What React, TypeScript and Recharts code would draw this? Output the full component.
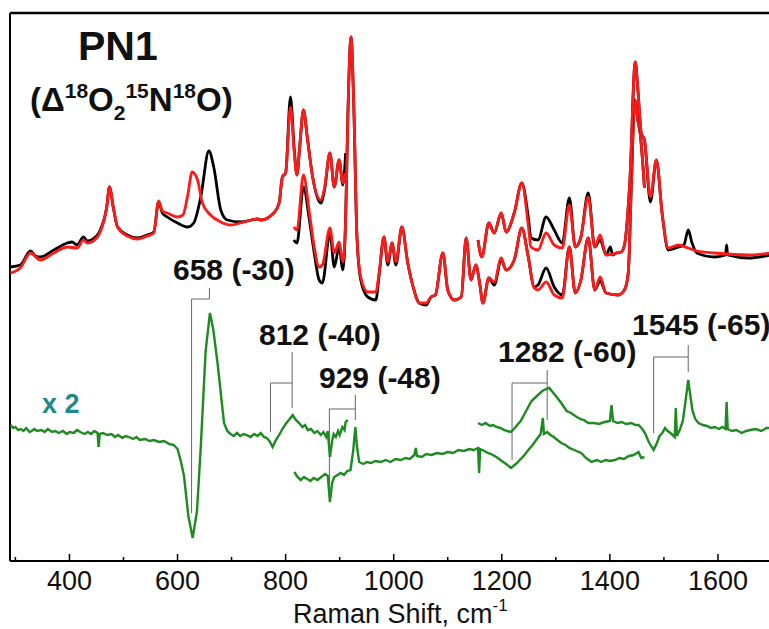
import { LineChart, Line, XAxis, YAxis, ReferenceLine } from "recharts";

// wavenumber (cm-1), intensity (arb. units)
const blackUpperA: [number, number][] = [
  [291, 294], [309, 296], [328, 310], [337, 305], [346, 304], [371, 311], [396, 318], [405, 319],
  [414, 316], [426, 324], [433, 320], [452, 326], [457, 331], [469, 354], [474, 374], [481, 354],
  [489, 334], [507, 326], [526, 323], [544, 326], [556, 329], [565, 359], [572, 348], [581, 344],
  [600, 338], [619, 334], [630, 338], [643, 364], [658, 410], [667, 394], [680, 351], [692, 341],
  [717, 339], [748, 342], [754, 341], [778, 348], [788, 358], [794, 384], [800, 388], [809, 464],
  [816, 411], [821, 386], [826, 414], [833, 451], [840, 424], [850, 384], [865, 358], [872, 371],
  [882, 408], [890, 374], [899, 401], [906, 376], [911, 408],
];
const redUpperA: [number, number][] = [
  [291, 288], [309, 293], [328, 308], [346, 301], [371, 308], [396, 314], [414, 313], [426, 321],
  [433, 318], [452, 324], [457, 329], [469, 354], [474, 374], [481, 354], [489, 334], [507, 325],
  [526, 322], [544, 325], [556, 328], [565, 360], [572, 350], [581, 348], [600, 344], [610, 346],
  [619, 366], [627, 389], [637, 381], [646, 358], [661, 346], [680, 339], [698, 336], [717, 338],
  [748, 342], [754, 341], [778, 348], [788, 358], [794, 384], [800, 388], [809, 454], [816, 408],
  [821, 386], [826, 414], [833, 451], [840, 424], [850, 384], [865, 361], [872, 373], [882, 408],
  [890, 374], [899, 401], [906, 378], [910, 388],
];
const blackLower: [number, number][] = [
  [815, 321], [821, 318], [833, 374], [844, 341], [853, 308], [862, 281], [868, 278], [882, 328],
  [890, 294], [899, 314], [906, 291], [911, 341], [915, 441], [921, 524], [926, 458], [932, 324],
  [939, 281], [952, 264], [967, 261], [973, 286], [982, 324], [989, 296], [997, 318], [1004, 296],
  [1015, 334], [1026, 298], [1036, 274], [1047, 258], [1060, 256], [1069, 264], [1077, 266],
  [1091, 308], [1100, 271], [1112, 261], [1125, 264], [1134, 323], [1143, 281], [1152, 296],
  [1159, 278], [1165, 258], [1176, 283], [1186, 276], [1199, 301], [1208, 291], [1223, 301],
  [1237, 333], [1249, 304], [1260, 274], [1267, 276], [1282, 293], [1297, 274], [1312, 266],
  [1325, 314], [1336, 268], [1346, 280], [1360, 323], [1372, 271], [1382, 280], [1393, 268],
  [1415, 266], [1427, 271], [1434, 288], [1440, 380], [1446, 461], [1452, 440], [1456, 428],
  [1464, 373],
];
const redLower: [number, number][] = [
  [815, 334], [821, 331], [833, 386], [844, 348], [853, 314], [862, 294], [868, 296], [882, 333],
  [890, 308], [899, 319], [906, 299], [911, 341], [915, 441], [921, 524], [926, 458], [932, 324],
  [939, 284], [952, 269], [967, 269], [973, 288], [982, 324], [989, 299], [997, 318], [1004, 299],
  [1015, 334], [1026, 298], [1036, 274], [1047, 258], [1060, 258], [1069, 264], [1077, 266],
  [1091, 308], [1100, 271], [1112, 261], [1125, 264], [1134, 323], [1143, 281], [1152, 296],
  [1159, 278], [1165, 258], [1176, 283], [1186, 279], [1199, 303], [1208, 291], [1223, 301],
  [1237, 333], [1249, 304], [1260, 273], [1267, 271], [1282, 279], [1297, 266], [1312, 263],
  [1325, 314], [1336, 268], [1346, 280], [1360, 323], [1372, 271], [1382, 284], [1393, 268],
  [1415, 266], [1427, 271], [1434, 288], [1440, 380], [1446, 461], [1452, 440], [1456, 428],
  [1464, 373],
];
const blackUpperB: [number, number][] = [
  [1156, 321], [1163, 304], [1176, 338], [1186, 328], [1199, 348], [1208, 329], [1223, 348],
  [1237, 378], [1249, 344], [1254, 323], [1267, 321], [1282, 344], [1297, 331], [1312, 318],
  [1325, 363], [1336, 314], [1346, 323], [1360, 368], [1372, 314], [1382, 321], [1393, 306],
  [1401, 314], [1405, 306], [1412, 308], [1421, 309], [1427, 316], [1437, 380], [1447, 499],
  [1452, 470], [1458, 428], [1464, 421], [1475, 359], [1486, 401], [1497, 346], [1508, 311],
  [1527, 314], [1537, 316], [1545, 331], [1552, 318], [1561, 308], [1594, 304], [1614, 306],
  [1616, 316], [1618, 306], [1656, 303], [1697, 306],
];
const redUpperB: [number, number][] = [
  [1156, 321], [1163, 304], [1176, 338], [1186, 328], [1199, 348], [1208, 329], [1223, 348],
  [1237, 378], [1249, 336], [1254, 314], [1267, 311], [1282, 328], [1297, 316], [1312, 313],
  [1325, 356], [1336, 314], [1346, 323], [1360, 364], [1372, 314], [1382, 326], [1393, 306],
  [1412, 308], [1421, 309], [1427, 316], [1437, 380], [1447, 499], [1452, 470], [1458, 428],
  [1464, 421], [1475, 364], [1486, 401], [1497, 346], [1508, 313], [1527, 316], [1545, 313],
  [1561, 310], [1594, 308], [1656, 306], [1697, 308],
];
// difference spectrum (x 2)
const greenA: [number, number][] = [
  [291, 136], [296, 133], [300, 134], [305, 131], [310, 132], [315, 130], [320, 133], [326, 129],
  [330, 130], [335, 132], [340, 130], [348, 131], [354, 129], [360, 132], [368, 129], [374, 130],
  [380, 128], [388, 130], [395, 127], [400, 129], [408, 128], [414, 131], [420, 129], [428, 127],
  [434, 129], [440, 127], [446, 130], [452, 128], [454, 114], [456, 127], [462, 128], [470, 126],
  [478, 127], [484, 124], [490, 126], [498, 123], [504, 125], [510, 124], [518, 122], [524, 124],
  [530, 121], [540, 122], [548, 120], [556, 121], [566, 119], [575, 120], [585, 117], [593, 116],
  [600, 112], [606, 100], [612, 85], [620, 45], [628, 23], [636, 50], [643, 114], [652, 210],
  [660, 248], [666, 232], [674, 198], [686, 138], [692, 130], [698, 127], [704, 125], [710, 128],
  [716, 125], [722, 127], [728, 126], [735, 124], [742, 127], [748, 125], [754, 128], [760, 124],
  [765, 123], [770, 120], [776, 114], [782, 121], [788, 126], [794, 132], [800, 137], [806, 141],
  [813, 146], [819, 141], [825, 138], [831, 134], [836, 136], [841, 131], [847, 132], [853, 128],
  [859, 130], [865, 126], [870, 129], [875, 124], [878, 130], [882, 104], [886, 120], [889, 127],
  [893, 124], [897, 130], [900, 126], [905, 134], [909, 131], [911, 139], [915, 141],
];
const greenB: [number, number][] = [
  [816, 89], [822, 84], [828, 81], [834, 84], [840, 82], [846, 80], [852, 83], [859, 81], [866, 84],
  [873, 87], [878, 85], [882, 59], [886, 78], [890, 84], [896, 86], [902, 88], [908, 86], [914, 90],
  [920, 91], [925, 110], [929, 134], [932, 115], [936, 99], [944, 97], [950, 99], [958, 98],
  [966, 100], [976, 99], [985, 101], [994, 99], [1003, 102], [1013, 101], [1022, 103], [1030, 102],
  [1038, 106], [1041, 113], [1043, 105], [1052, 104], [1060, 107], [1070, 106], [1080, 108],
  [1090, 107], [1100, 109], [1110, 108], [1120, 111], [1130, 110], [1140, 112], [1148, 111],
  [1156, 113], [1158, 88], [1160, 112], [1168, 110], [1174, 108], [1180, 107], [1190, 104],
  [1200, 100], [1208, 97], [1217, 93], [1226, 97], [1235, 102], [1242, 106], [1249, 111],
  [1257, 116], [1265, 122], [1272, 127], [1276, 143], [1278, 127], [1284, 129], [1290, 126],
  [1296, 124], [1303, 121], [1310, 118], [1318, 116], [1325, 113], [1330, 112], [1338, 110],
  [1347, 108], [1356, 103], [1366, 99], [1376, 101], [1384, 99], [1392, 101], [1400, 100],
  [1409, 101], [1418, 103], [1426, 102], [1435, 105], [1444, 106], [1453, 109], [1458, 103],
  [1464, 104],
];
const greenC: [number, number][] = [
  [1156, 138], [1163, 136], [1170, 138], [1178, 135], [1184, 136], [1190, 134], [1197, 133],
  [1204, 131], [1210, 130], [1217, 129], [1224, 133], [1230, 137], [1235, 140], [1245, 150],
  [1255, 160], [1265, 165], [1275, 170], [1282, 172], [1288, 173], [1294, 169], [1300, 165],
  [1310, 158], [1320, 150], [1328, 148], [1336, 145], [1345, 142], [1352, 141], [1360, 138],
  [1371, 138], [1380, 137], [1390, 139], [1400, 140], [1403, 156], [1406, 140], [1414, 138],
  [1422, 139], [1430, 137], [1440, 138], [1447, 136], [1453, 136], [1460, 132], [1465, 128],
  [1472, 119], [1481, 111], [1487, 118], [1492, 125], [1497, 128], [1502, 133], [1507, 130],
  [1512, 128], [1516, 126], [1520, 124], [1522, 153], [1524, 125], [1530, 132], [1535, 140],
  [1540, 160], [1545, 181], [1549, 165], [1553, 150], [1558, 142], [1564, 138], [1572, 136],
  [1580, 135], [1587, 133], [1594, 134], [1602, 132], [1608, 134], [1614, 132], [1616, 159],
  [1618, 132], [1626, 130], [1634, 131], [1644, 128], [1652, 130], [1660, 131], [1670, 132],
  [1680, 130], [1690, 133], [1697, 133],
];

const xTicks = [300, 400, 500, 600, 700, 800, 900, 1000, 1100, 1200, 1300, 1400, 1500, 1600, 1700];

// brackets: labelled band (hi), partner band (lo), stub top, bar level, stub bottom, drop end
const brackets = [
  { hi: 659, lo: 626, top: 273, bar: 262, stubEnd: 262, drop: 48 },
  { hi: 812, lo: 772, top: 209, bar: 178, stubEnd: 153, drop: 129 },
  { hi: 929, lo: 881, top: 166, bar: 152, stubEnd: 141, drop: 64 },
  { hi: 1284, lo: 1219, top: 191, bar: 178, stubEnd: 141, drop: 101 },
  { hi: 1545, lo: 1481, top: 216, bar: 204, stubEnd: 189, drop: 128 },
];

const labels = [
  { text: "658 (-30)", x: 173, y: 280 },
  { text: "812 (-40)", x: 259, y: 345 },
  { text: "929 (-48)", x: 319, y: 388 },
  { text: "1282 (-60)", x: 498, y: 362 },
  { text: "1545 (-65)", x: 632, y: 335 },
];

const FONT = "'Liberation Sans', Arial, Helvetica, sans-serif";
const pts = (arr: [number, number][]) => arr.map(([w, v]) => ({ w, v }));

function AxisTick(props: any) {
  const { x, y, payload } = props;
  const major = payload.value % 200 === 0;
  return (
    <g>
      <line x1={x} x2={x} y1={y} y2={y - (major ? 7 : 4)} stroke="#000" strokeWidth={1.5} />
      {major && (
        <text x={x} y={y + 29} textAnchor="middle" fontSize={27} fontFamily={FONT} fill="#111">
          {payload.value}
        </text>
      )}
    </g>
  );
}

const series = [
  { data: blackUpperA, color: "#000" },
  { data: redUpperA, color: "#ff1a1a" },
  { data: blackLower, color: "#000" },
  { data: redLower, color: "#ff1a1a" },
  { data: blackUpperB, color: "#000" },
  { data: redUpperB, color: "#ff1a1a" },
];
const diffSeries = [greenA, greenB, greenC];

export default function App() {
  return (
    <div style={{ position: "absolute", left: 0, top: 0, width: 769, height: 629, overflow: "hidden", background: "#fff" }}>
      <LineChart width={772} height={629} margin={{ top: 13, right: 0, bottom: 0, left: 10 }}>
        <XAxis
          type="number"
          dataKey="w"
          domain={[290, 1700]}
          ticks={xTicks}
          interval={0}
          height={68}
          tickSize={0}
          tickMargin={0}
          tickLine={false}
          tick={<AxisTick />}
          axisLine={{ stroke: "#000", strokeWidth: 2 }}
          allowDataOverflow
        />
        <YAxis type="number" dataKey="v" domain={[0, 548]} hide allowDataOverflow />
        <ReferenceLine x={290} stroke="#000" strokeWidth={2} />
        <ReferenceLine y={548} stroke="#000" strokeWidth={2.5} />
        {brackets.map((b, i) => (
          <ReferenceLine key={`s${i}`} segment={[{ x: b.hi, y: b.top }, { x: b.hi, y: Math.min(b.bar, b.stubEnd) }]} stroke="#666" strokeWidth={1} />
        ))}
        {brackets.map((b, i) => (
          <ReferenceLine key={`h${i}`} segment={[{ x: b.lo, y: b.bar }, { x: b.hi, y: b.bar }]} stroke="#666" strokeWidth={1} />
        ))}
        {brackets.map((b, i) => (
          <ReferenceLine key={`d${i}`} segment={[{ x: b.lo, y: b.bar }, { x: b.lo, y: b.drop }]} stroke="#666" strokeWidth={1} />
        ))}
        {series.map((s, i) => (
          <Line
            key={`sp${i}`}
            data={pts(s.data)}
            dataKey="v"
            type="monotone"
            stroke={s.color}
            strokeWidth={2.8}
            dot={false}
            isAnimationActive={false}
          />
        ))}
        {diffSeries.map((d, i) => (
          <Line
            key={`df${i}`}
            data={pts(d)}
            dataKey="v"
            type="linear"
            stroke="#1e8a22"
            strokeWidth={2.4}
            dot={false}
            isAnimationActive={false}
          />
        ))}
      </LineChart>
      <svg width={769} height={629} style={{ position: "absolute", left: 0, top: 0, pointerEvents: "none" }}>
        <g fontFamily={FONT} fontWeight="bold" fill="#111">
          <text x={78} y={60} fontSize={41}>PN1</text>
          <text x={30} y={111} fontSize={33}>
            (Δ<tspan fontSize={21} dy={-13}>18</tspan>
            <tspan dy={13}>O</tspan>
            <tspan fontSize={21} dy={9}>2</tspan>
            <tspan fontSize={21} dy={-22}>15</tspan>
            <tspan dy={13}>N</tspan>
            <tspan fontSize={21} dy={-13}>18</tspan>
            <tspan dy={13}>O)</tspan>
          </text>
          {labels.map((l) => (
            <text key={l.text} x={l.x} y={l.y} fontSize={30}>{l.text}</text>
          ))}
          <text x={42} y={413} fontSize={27} fill="#21898a">x 2</text>
        </g>
        <text x={293} y={623} fontSize={27} fontFamily={FONT} fill="#111">
          Raman Shift, cm<tspan fontSize={17} dy={-12}>-1</tspan>
        </text>
      </svg>
    </div>
  );
}
